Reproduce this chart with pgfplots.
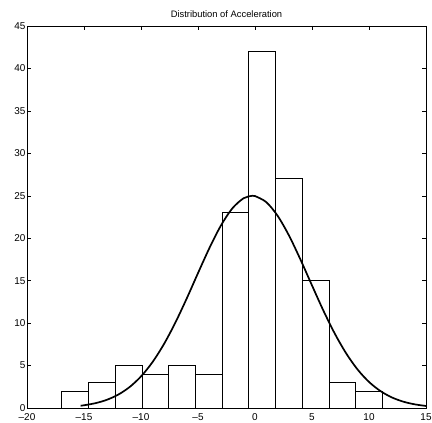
\documentclass[border=0pt]{standalone}
\usepackage{fontspec}
\setmainfont{Liberation Sans}
\usepackage{pgfplots}
\pgfplotsset{compat=1.18}
\begin{document}
\begin{tikzpicture}
\begin{axis}[
  name=ax,
  scale only axis,
  width=399bp, height=382bp,
  xmin=-20, xmax=15, ymin=0, ymax=45,
  xtick={-20,-15,-10,-5,0,5,10,15},
  xticklabels={{--20},{--15},{--10},{--5},0,5,10,15},
  ytick={0,5,10,15,20,25,30,35,40,45},
  tick align=inside,
  major tick length=4bp,
  axis line style={line width=0.9pt},
  tick style={line width=0.5pt, black},
  tick label style={font=\fontsize{10}{11}\selectfont},
  /pgf/number format/assume math mode=true,
  yticklabel style={xshift=2bp},
  xticklabel style={yshift=-2bp},
  title={Distribution of Acceleration},
  title style={font=\fontsize{9.4}{10}\selectfont, at={(0.5,1)}, anchor=base, yshift=3bp},
]
\addplot[ybar interval, draw=black, fill=white, line width=0.6pt] coordinates {
(-16.96,2) (-14.616,3) (-12.272,5) (-9.928,4) (-7.584,5) (-5.24,4)
(-2.896,23) (-0.552,42) (1.792,27) (4.136,15) (6.48,3) (8.824,2) (11.168,0)
};
\addplot[smooth, black, line width=1.7pt] coordinates {
(-15.3,0.268) (-15,0.321) (-14,0.567) (-13,0.963) (-12,1.573) (-11,2.468)
(-10,3.720) (-9,5.388) (-8,7.497) (-7,10.02) (-6,12.87) (-5,15.89)
(-4,18.84) (-3,21.47) (-2,23.50) (-1,24.71) (-0.24,25.0) (0,24.97)
(1,24.24) (2,22.61) (3,20.27) (4,17.45) (5,14.44) (6,11.47) (7,8.76)
(8,6.43) (9,4.53) (10,3.07) (11,2.00) (12,1.249) (13,0.751) (14,0.433) (15,0.240)
};
\end{axis}
\pgfresetboundingbox
\path[use as bounding box] ([shift={(-27bp,-15bp)}]ax.south west) rectangle ([shift={(6bp,26bp)}]ax.north east);
\end{tikzpicture}
\end{document}
